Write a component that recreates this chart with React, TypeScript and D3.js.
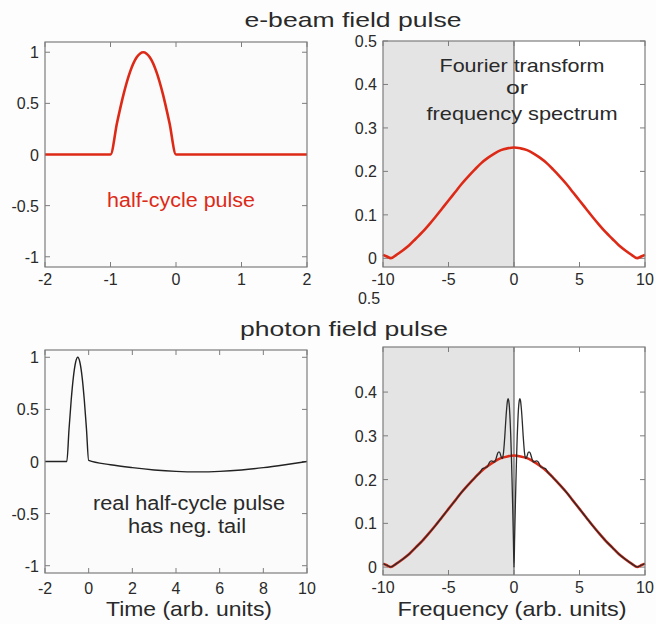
import React from "react";
import * as d3 from "d3";

// ---------- data ----------
const pulseTimeTop = [-2, -1, -0.9, -0.8, -0.7, -0.6, -0.5, -0.4, -0.3, -0.2, -0.1, 0, 2];
const pulseValTop = [0, 0, 0.31, 0.59, 0.81, 0.95, 1, 0.95, 0.81, 0.59, 0.31, 0, 0];

const pulseTimeBottom = [-2, -1, -0.9, -0.8, -0.7, -0.6, -0.5, -0.4, -0.3, -0.2, -0.1, 0, 1, 2, 3, 4, 5, 6, 7, 8, 9, 10];
const pulseValBottom = [0, 0, 0.31, 0.59, 0.81, 0.95, 1, 0.95, 0.81, 0.59, 0.31, 0.01, -0.031, -0.059, -0.081, -0.095, -0.1, -0.095, -0.081, -0.059, -0.031, 0];

const freqIdeal = [-10, -9.75, -9.4, -9, -8.5, -8, -7.5, -7, -6.5, -6, -5.5, -5, -4.5, -4, -3.5, -3, -2.5, -2, -1.5, -1, -0.5, 0,
  0.5, 1, 1.5, 2, 2.5, 3, 3.5, 4, 4.5, 5, 5.5, 6, 6.5, 7, 7.5, 8, 8.5, 9, 9.4, 9.75, 10];
const specIdeal = [0.008, 0.0048, 0.0004, 0.0075, 0.018, 0.03, 0.045, 0.06, 0.077, 0.095, 0.114, 0.133, 0.152, 0.171, 0.188, 0.204, 0.219, 0.231, 0.241, 0.249, 0.253, 0.255,
  0.253, 0.249, 0.241, 0.231, 0.219, 0.204, 0.188, 0.171, 0.152, 0.133, 0.114, 0.095, 0.077, 0.06, 0.045, 0.03, 0.018, 0.0075, 0.0004, 0.0048, 0.008];

const freqReal = [-10, -9.75, -9.4, -9, -8.5, -8, -7.5, -7, -6.5, -6, -5.5, -5, -4.5, -4, -3.5, -3, -2.8, -2.6, -2.4, -2.2, -2, -1.9, -1.8, -1.7, -1.6, -1.5, -1.4, -1.3, -1.2, -1.1, -1,
  -0.95, -0.9, -0.85, -0.8, -0.75, -0.7, -0.65, -0.6, -0.55, -0.5, -0.45, -0.4, -0.35, -0.3, -0.25, -0.2, -0.15, -0.1, -0.05, 0,
  0.05, 0.1, 0.15, 0.2, 0.25, 0.3, 0.35, 0.4, 0.45, 0.5, 0.55, 0.6, 0.65, 0.7, 0.75, 0.8, 0.85, 0.9, 0.95,
  1, 1.1, 1.2, 1.3, 1.4, 1.5, 1.6, 1.7, 1.8, 1.9, 2, 2.2, 2.4, 2.6, 2.8, 3, 3.5, 4, 4.5, 5, 5.5, 6, 6.5, 7, 7.5, 8, 8.5, 9, 9.4, 9.75, 10];
const specReal = [0.008, 0.0048, 0.0004, 0.0075, 0.018, 0.03, 0.045, 0.06, 0.077, 0.095, 0.114, 0.133, 0.152, 0.171, 0.188, 0.204, 0.21, 0.216, 0.225, 0.227, 0.231, 0.238, 0.242, 0.243, 0.241, 0.24, 0.245, 0.255, 0.263, 0.263, 0.254,
  0.25, 0.248, 0.252, 0.262, 0.279, 0.3, 0.324, 0.347, 0.366, 0.38, 0.385, 0.38, 0.365, 0.338, 0.302, 0.255, 0.199, 0.137, 0.07, 0,
  0.07, 0.137, 0.199, 0.255, 0.302, 0.338, 0.365, 0.38, 0.385, 0.38, 0.366, 0.347, 0.324, 0.3, 0.279, 0.262, 0.252, 0.248, 0.25,
  0.254, 0.263, 0.263, 0.255, 0.245, 0.24, 0.241, 0.243, 0.242, 0.238, 0.231, 0.227, 0.225, 0.216, 0.21, 0.204, 0.188, 0.171, 0.152, 0.133, 0.114, 0.095, 0.077, 0.06, 0.045, 0.03, 0.018, 0.0075, 0.0004, 0.0048, 0.008];

const timeTicksTop = [-2, -1, 0, 1, 2];
const timeTicksBottom = [-2, 0, 2, 4, 6, 8, 10];
const fieldTicks = [-1, -0.5, 0, 0.5, 1];
const freqTicks = [-10, -5, 0, 5, 10];
const specTicksTop = [0, 0.1, 0.2, 0.3, 0.4, 0.5];
const specTicksBottom = [0, 0.1, 0.2, 0.3, 0.4];

// ---------- styles ----------
const FONT = "'Liberation Sans', Arial, Helvetica, sans-serif";
const RED = "#dd2a17";
const FRAME = "#7d7d7d";
const TXT = "#2a2a2a";

type PanelProps = {
  x0: number; x1: number; y0: number; y1: number;
  xDom: [number, number]; yDom: [number, number];
  xTicks: number[]; yTicks: number[];
  labelBaseline: number; shade?: boolean;
  children?: (xs: d3.ScaleLinear<number, number>, ys: d3.ScaleLinear<number, number>) => React.ReactNode;
  bg?: string;
};

function Panel(p: PanelProps) {
  const xs = d3.scaleLinear().domain(p.xDom).range([p.x0, p.x1]);
  const ys = d3.scaleLinear().domain(p.yDom).range([p.y1, p.y0]);
  const tl = 5;
  const fmt = (v: number) => String(v);
  return (
    <g>
      <rect x={p.x0} y={p.y0} width={p.x1 - p.x0} height={p.y1 - p.y0} fill={p.bg || "#ffffff"} />
      {p.shade && (
        <g>
          <rect x={xs(-10)} y={p.y0} width={xs(0) - xs(-10)} height={p.y1 - p.y0} fill="#e4e4e4" />
          <line x1={xs(0)} x2={xs(0)} y1={p.y0} y2={p.y1} stroke="#4a4a4a" strokeWidth={1} />
        </g>
      )}
      {p.xTicks.map((t) => (
        <g key={"x" + t}>
          <line x1={xs(t)} x2={xs(t)} y1={p.y1} y2={p.y1 - tl} stroke={FRAME} />
          <line x1={xs(t)} x2={xs(t)} y1={p.y0} y2={p.y0 + tl} stroke={FRAME} />
          <text x={xs(t)} y={p.labelBaseline} textAnchor="middle" fontSize={16} fill={TXT} fontFamily={FONT}>{fmt(t)}</text>
        </g>
      ))}
      {p.yTicks.map((t) => (
        <g key={"y" + t}>
          <line x1={p.x0} x2={p.x0 + tl} y1={ys(t)} y2={ys(t)} stroke={FRAME} />
          <line x1={p.x1} x2={p.x1 - tl} y1={ys(t)} y2={ys(t)} stroke={FRAME} />
          <text x={p.x0 - 6} y={ys(t) + 6} textAnchor="end" fontSize={16} fill={TXT} fontFamily={FONT}>{fmt(t)}</text>
        </g>
      ))}
      {p.children && p.children(xs, ys)}
      <rect x={p.x0} y={p.y0} width={p.x1 - p.x0} height={p.y1 - p.y0} fill="none" stroke={FRAME} strokeWidth={1.2} />
    </g>
  );
}

function linePath(xsArr: number[], vsArr: number[], xs: any, ys: any) {
  const pts = xsArr.map((x, i) => [x, vsArr[i]] as [number, number]);
  return d3.line<[number, number]>().x((d) => xs(d[0])).y((d) => ys(d[1])).curve(d3.curveMonotoneX)(pts) || "";
}

function Txt(props: { x: number; y: number; w: number; size: number; fill?: string; children: string }) {
  return (
    <text x={props.x - props.w / 2} y={props.y} textLength={props.w} lengthAdjust="spacingAndGlyphs"
      fontSize={props.size} fill={props.fill || TXT} fontFamily={FONT}>{props.children}</text>
  );
}

export default function App() {
  return (
    <svg width={656} height={624} style={{ position: "absolute", left: 0, top: 0 }}>
      <rect x={0} y={0} width={656} height={624} fill="#fdfdfd" />
      <Txt x={353} y={27} w={217} size={21}>e-beam field pulse</Txt>
      <Txt x={344} y={336} w={208} size={21}>photon field pulse</Txt>

      <Panel x0={45} x1={307} y0={42} y1={267} xDom={[-2, 2]} yDom={[-1.1, 1.1]} xTicks={timeTicksTop} yTicks={fieldTicks} labelBaseline={285} bg="#fbfbfb">
        {(xs, ys) => (
          <path d={linePath(pulseTimeTop, pulseValTop, xs, ys)} fill="none" stroke={RED} strokeWidth={2.6} />
        )}
      </Panel>
      <Txt x={181} y={207} w={148} size={20} fill={RED}>half-cycle pulse</Txt>

      <Panel x0={383} x1={645} y0={41} y1={267} xDom={[-10, 10]} yDom={[-0.02, 0.5]} xTicks={freqTicks} yTicks={specTicksTop} labelBaseline={285} shade>
        {(xs, ys) => (
          <path d={linePath(freqIdeal, specIdeal, xs, ys)} fill="none" stroke={RED} strokeWidth={2.6} />
        )}
      </Panel>
      <Txt x={522} y={72} w={165} size={19}>Fourier transform</Txt>
      <Txt x={517} y={94} w={22} size={19}>or</Txt>
      <Txt x={522} y={120} w={191} size={19}>frequency spectrum</Txt>
      <text x={369} y={304} textAnchor="middle" fontSize={16} fill={TXT} fontFamily={FONT}>0.5</text>

      <Panel x0={45} x1={307} y0={350} y1={573} xDom={[-2, 10]} yDom={[-1.07, 1.07]} xTicks={timeTicksBottom} yTicks={fieldTicks} labelBaseline={594} bg="#fbfbfb">
        {(xs, ys) => (
          <path d={linePath(pulseTimeBottom, pulseValBottom, xs, ys)} fill="none" stroke="#222" strokeWidth={1.4} />
        )}
      </Panel>
      <Txt x={189} y={510} w={192} size={20}>real half-cycle pulse</Txt>
      <Txt x={187} y={533} w={118} size={20}>has neg. tail</Txt>
      <Txt x={189} y={616} w={166} size={21}>Time (arb. units)</Txt>

      <Panel x0={383} x1={645} y0={347} y1={575} xDom={[-10, 10]} yDom={[-0.018, 0.503]} xTicks={freqTicks} yTicks={specTicksBottom} labelBaseline={593} shade>
        {(xs, ys) => (
          <g>
            <path d={linePath(freqIdeal, specIdeal, xs, ys)} fill="none" stroke={RED} strokeWidth={2.6} />
            <path d={linePath(freqReal, specReal, xs, ys)} fill="none" stroke="#2b2b2b" strokeWidth={1.3} />
          </g>
        )}
      </Panel>
      <Txt x={512} y={616} w={229} size={21}>Frequency (arb. units)</Txt>
    </svg>
  );
}
